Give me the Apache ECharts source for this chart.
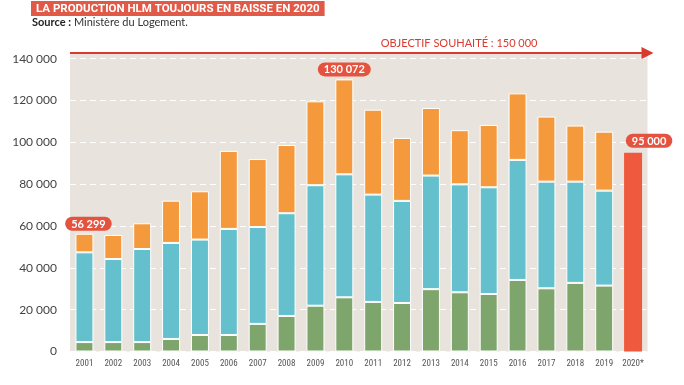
<!DOCTYPE html>
<html>
<head>
<meta charset="utf-8">
<script src="https://cdn.jsdelivr.net/npm/echarts@6/dist/echarts.min.js"></script>
<style>
  html, body { margin: 0; padding: 0; background: #ffffff; }
  #chart { width: 684px; height: 385px; }
</style>
</head>
<body>
<div id="chart"></div>
<script>
var categories = ['2001','2002','2003','2004','2005','2006','2007','2008','2009','2010',
                  '2011','2012','2013','2014','2015','2016','2017','2018','2019','2020*'];
var greenValues  = [4500,4500,4500,6000,7900,7900,13200,17000,21900,25900,23700,23200,29800,28300,27500,34200,30200,32800,31500,'-'];
var tealValues   = [42900,39700,44500,45900,45600,50700,46300,49100,57600,58800,51300,48800,54300,51600,51000,57400,51000,48400,45400,'-'];
var orangeValues = [8899,11500,12300,20200,23100,37300,32500,32600,40100,45372,40600,30100,32300,25900,29800,31800,31100,26800,28200,'-'];
var forecastValues = ['-','-','-','-','-','-','-','-','-','-','-','-','-','-','-','-','-','-','-',95000];
var highlightLabels = {0: '56 299', 9: '130 072'};
var forecastLabel = '95 000';
var yTicks = [0,20000,40000,60000,80000,100000,120000,140000];
var goalText = 'OBJECTIF SOUHAITÉ : 150 000';
var Y_MAX = 142700;

function fmt(v) { return String(v).replace(/\B(?=(\d{3})+(?!\d))/g, ' '); }

var chart = echarts.init(document.getElementById('chart'));
var pill = {
  color: '#fff', fontWeight: 'bold', fontSize: 11, fontFamily: 'Lato',
  backgroundColor: '#e4533f', borderRadius: 8, padding: [2, 6, 1, 6]
};
var itemBorder = { borderColor: '#ffffff', borderWidth: 1 };

var orangeData = orangeValues.map(function (v, i) {
  if (!highlightLabels[i]) return v;
  return {
    value: v,
    label: Object.assign({ show: true, position: 'top', distance: 3,
      offset: [i === 0 ? 4 : 0, 0], formatter: highlightLabels[i] }, pill)
  };
});

chart.setOption({
  animation: false,
  backgroundColor: '#ffffff',
  title: [
    {
      text: 'LA PRODUCTION HLM TOUJOURS EN BAISSE EN 2020',
      left: 31, top: 1, padding: [2, 5, 1, 5],
      backgroundColor: '#e05a47',
      textStyle: { color: '#fff', fontSize: 11.5, fontWeight: 'bold', fontFamily: 'Liberation Sans Narrow, Roboto, sans-serif' }
    },
    {
      text: '{b|Source :} {n|Ministère du Logement.}',
      left: 32, top: 17, padding: 0,
      textStyle: {
        color: '#222', fontSize: 11, fontWeight: 'normal', fontFamily: 'Lato',
        rich: {
          b: { fontWeight: 'bold', fontSize: 11, color: '#222', fontFamily: 'Lato' },
          n: { fontWeight: 'normal', fontSize: 11, color: '#333', fontFamily: 'Lato' }
        }
      }
    }
  ],
  grid: { left: 70, right: 36.5, top: 53, bottom: 33.5, show: true, backgroundColor: '#e8e4dd', borderWidth: 0 },
  xAxis: {
    type: 'category', data: categories,
    axisLine: { show: false }, axisTick: { show: false },
    axisLabel: { color: '#555', fontSize: 9, margin: 8, fontFamily: 'Roboto Condensed, Liberation Sans Narrow, sans-serif' }
  },
  yAxis: {
    type: 'value', min: 0, max: Y_MAX, interval: 20000,
    axisLine: { show: false }, axisTick: { show: false },
    axisLabel: { color: '#444', fontSize: 12, margin: 13, fontFamily: 'Lato', showMaxLabel: false,
      formatter: function (v) { return yTicks.indexOf(v) >= 0 ? fmt(v) : ''; } },
    splitLine: { lineStyle: { color: '#ffffff', type: [6, 4], width: 1 } }
  },
  series: [
    { type: 'bar', stack: 'a', data: greenValues, barWidth: 18, itemStyle: Object.assign({ color: '#7ea56c' }, itemBorder) },
    { type: 'bar', stack: 'a', data: tealValues, barWidth: 18, itemStyle: Object.assign({ color: '#63c0cc' }, itemBorder) },
    { type: 'bar', stack: 'a', data: orangeData, barWidth: 18, itemStyle: Object.assign({ color: '#f59a3c' }, itemBorder),
      markLine: {
        silent: true, symbol: ['none', 'triangle'], symbolSize: [12, 12],
        lineStyle: { color: '#d93a2e', width: 2, type: 'solid' },
        label: { show: true, position: 'insideEndTop', distance: [110, 4], formatter: goalText,
          color: '#d93a2e', fontSize: 11, fontFamily: 'Lato' },
        data: [{ yAxis: Y_MAX }]
      }
    },
    { type: 'bar', stack: 'a', data: forecastValues, barWidth: 18, itemStyle: { color: '#ef5a3e' },
      label: Object.assign({ show: true, position: 'top', distance: 5, offset: [16, 0],
        formatter: function () { return forecastLabel; } }, pill)
    }
  ]
});
</script>
</body>
</html>
